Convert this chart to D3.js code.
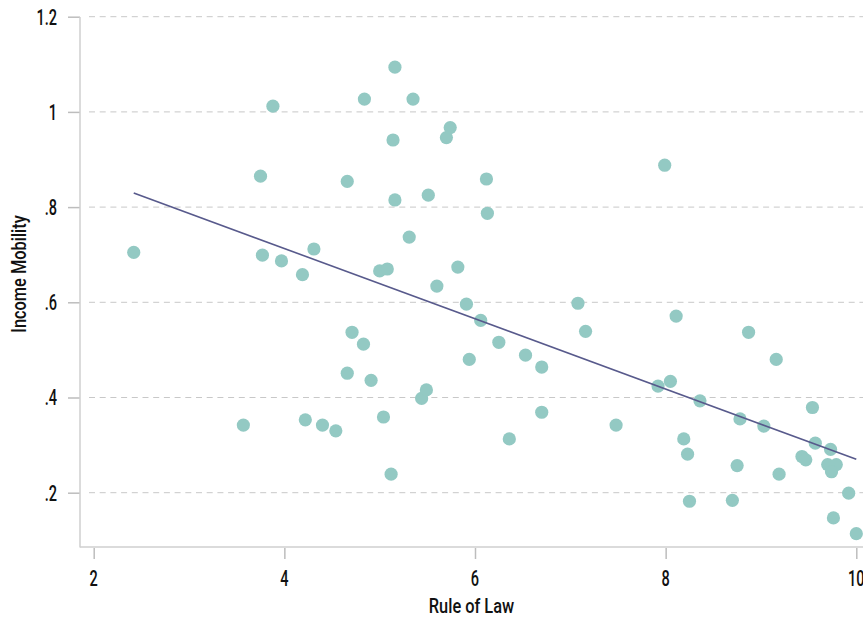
<!DOCTYPE html>
<html>
<head>
<meta charset="utf-8">
<script src="https://cdn.jsdelivr.net/npm/d3@7"></script>
<style>
  html, body { margin: 0; padding: 0; background: #fff; }
  svg { display: block; }
  text { font-family: "Roboto", "Liberation Sans", sans-serif; font-weight: 500; fill: #111; }
</style>
</head>
<body>
<svg id="chart" width="863" height="624"></svg>
<script>
// Rule of law index per country
const ruleOfLaw = [
  2.42, 3.57, 3.75, 3.88, 3.77, 3.97, 4.19, 4.31, 4.22, 4.40,
  4.54, 4.66, 4.66, 4.71, 4.83, 4.84, 4.91, 5.00, 5.08, 5.04,
  5.12, 5.14, 5.16, 5.16, 5.31, 5.35, 5.44, 5.49, 5.51, 5.60,
  5.70, 5.74, 5.82, 5.91, 5.94, 6.06, 6.12, 6.13, 6.25, 6.36,
  6.53, 6.70, 6.70, 7.08, 7.16, 7.48, 7.92, 7.99, 8.05, 8.11,
  8.19, 8.23, 8.25, 8.36, 8.70, 8.75, 8.78, 8.87, 9.03, 9.16,
  9.19, 9.43, 9.47, 9.54, 9.57, 9.73, 9.70, 9.79, 9.74, 9.76,
  9.92, 10.00
];
// Income mobility per country (same order)
const incomeMobility = [
  0.705, 0.342, 0.865, 1.012, 0.699, 0.687, 0.658, 0.712, 0.353, 0.342,
  0.330, 0.854, 0.451, 0.537, 0.512, 1.027, 0.436, 0.666, 0.670, 0.359,
  0.239, 0.941, 0.815, 1.094, 0.737, 1.027, 0.398, 0.416, 0.825, 0.634,
  0.946, 0.967, 0.674, 0.596, 0.480, 0.562, 0.859, 0.787, 0.516, 0.313,
  0.489, 0.464, 0.369, 0.598, 0.539, 0.342, 0.424, 0.888, 0.434, 0.571,
  0.313, 0.281, 0.182, 0.393, 0.184, 0.257, 0.355, 0.537, 0.340, 0.480,
  0.239, 0.276, 0.269, 0.379, 0.304, 0.291, 0.259, 0.259, 0.244, 0.147,
  0.199, 0.114
];
const xTicks = [2, 4, 6, 8, 10];
const yTicks = [0.2, 0.4, 0.6, 0.8, 1, 1.2];
const yTickLabels = [".2", ".4", ".6", ".8", "1", "1.2"];

const svg = d3.select("#chart");
const plot = { left: 80, right: 863, top: 17, bottom: 547 };

const x = d3.scaleLinear().domain([2, 10]).range([93.7, 856.3]);
const y = d3.scaleLinear().domain([0.2, 1.2]).range([492.7, 16.7]);

// condensed text helper
function label(g, px, py, str, size, anchor, squeeze, rotate) {
  return g.append("text")
    .attr("transform", `translate(${px},${py})${rotate ? " rotate(-90)" : ""} scale(${squeeze},1)`)
    .attr("text-anchor", anchor).attr("font-size", size).text(str);
}

// horizontal dashed gridlines
svg.append("g").selectAll("line").data(yTicks).join("line")
  .attr("x1", 89).attr("x2", plot.right)
  .attr("y1", d => y(d)).attr("y2", d => y(d))
  .attr("stroke", "#c8c8c8").attr("stroke-width", 1)
  .attr("stroke-dasharray", "6,4.7");

// y axis
const yAxis = svg.append("g").attr("transform", `translate(${plot.left},0)`)
  .call(d3.axisLeft(y).tickValues(yTicks).tickSize(12).tickFormat(""));
yAxis.select(".domain").remove();
yAxis.selectAll(".tick line").attr("stroke", "#bdbdbd").attr("stroke-width", 1.5);
svg.append("line").attr("x1", plot.left).attr("x2", plot.left)
  .attr("y1", plot.top).attr("y2", plot.bottom + 0.5)
  .attr("stroke", "#cfcfcf").attr("stroke-width", 1.5);
const yLab = svg.append("g");
yTicks.forEach((t, i) => label(yLab, 57, y(t) + 7.8, yTickLabels[i], 22, "end", 0.66));

// x axis
const xAxis = svg.append("g").attr("transform", `translate(0,${plot.bottom + 1})`)
  .call(d3.axisBottom(x).tickValues(xTicks).tickSize(11).tickFormat(""));
xAxis.select(".domain").remove();
xAxis.selectAll(".tick line").attr("stroke", "#bdbdbd").attr("stroke-width", 1.5);
svg.append("line").attr("x1", plot.left).attr("x2", plot.right)
  .attr("y1", plot.bottom).attr("y2", plot.bottom)
  .attr("stroke", "#cfcfcf").attr("stroke-width", 1.5);
const xLab = svg.append("g");
xTicks.forEach(t => label(xLab, x(t), 586, d3.format("d")(t), 22, "middle", 0.66));

// points
const pts = ruleOfLaw.map((v, i) => [v, incomeMobility[i]]);
svg.append("g").selectAll("circle").data(pts).join("circle")
  .attr("cx", d => x(d[0])).attr("cy", d => y(d[1])).attr("r", 6.6)
  .attr("fill", "#93c9c3");

// least-squares fit line across the observed range
const mx = d3.mean(ruleOfLaw), my = d3.mean(incomeMobility);
const slope = d3.sum(pts, d => (d[0] - mx) * (d[1] - my)) / d3.sum(pts, d => (d[0] - mx) ** 2);
const intercept = my - slope * mx;
const [x0, x1] = d3.extent(ruleOfLaw);
svg.append("line")
  .attr("x1", x(x0)).attr("y1", y(intercept + slope * x0))
  .attr("x2", x(x1)).attr("y2", y(intercept + slope * x1))
  .attr("stroke", "#585a8c").attr("stroke-width", 1.6);

// axis titles
label(svg, (plot.left + plot.right) / 2, 613, "Rule of Law", 21, "middle", 0.78);
label(svg, 26, 274, "Income Mobility", 21, "middle", 0.78, true);
</script>
</body>
</html>
